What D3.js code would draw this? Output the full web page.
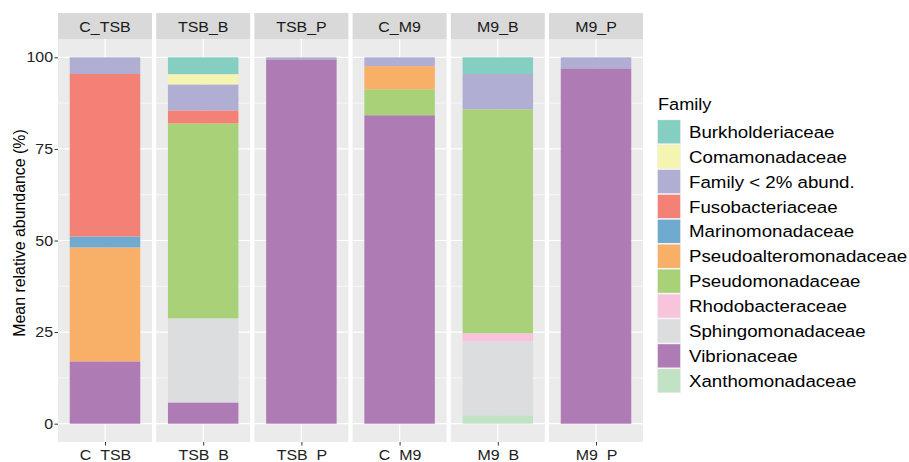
<!DOCTYPE html>
<html>
<head>
<meta charset="utf-8">
<script src="https://cdn.jsdelivr.net/npm/d3@7"></script>
<style>
  body { margin: 0; background: #fff; }
  text { font-family: "Liberation Sans", Arial, Helvetica, sans-serif; }
</style>
</head>
<body>
<svg width="909" height="462"></svg>
<script>
// samples (facets)
var groups = ["C_TSB", "TSB_B", "TSB_P", "C_M9", "M9_B", "M9_P"];
var families = ["Burkholderiaceae", "Comamonadaceae", "Family < 2% abund.", "Fusobacteriaceae",
  "Marinomonadaceae", "Pseudoalteromonadaceae", "Pseudomonadaceae", "Rhodobacteraceae",
  "Sphingomonadaceae", "Vibrionaceae", "Xanthomonadaceae"];
var colors = ["#84CFC2", "#F6F4B1", "#B0AED2", "#F38176", "#70AACE", "#F8AF67",
  "#A9D278", "#F7C4DC", "#DCDDDF", "#AF7BB4", "#C2E3C3"];

// mean relative abundance (%) per family, one value per sample
var burkholderiaceae       = [0,     4.6,   0,     0,    4.55, 0];
var comamonadaceae         = [0,     2.8,   0,     0,    0,    0];
var familyLow              = [4.55,  7.1,   0.55,  2.4,  9.65, 3.0];
var fusobacteriaceae       = [44.35, 3.55,  0,     0,    0,    0];
var marinomonadaceae       = [3.0,   0,     0,     0,    0,    0];
var pseudoalteromonadaceae = [31.1,  0,     0,     6.3,  0,    0];
var pseudomonadaceae       = [0,     53.2,  0,     7.1,  61.1, 0];
var rhodobacteraceae       = [0,     0,     0,     0,    2.2,  0];
var sphingomonadaceae      = [0,     22.95, 0,     0,    20.2, 0];
var vibrionaceae           = [17.0,  5.8,   99.45, 84.2, 0,    97.0];
var xanthomonadaceae       = [0,     0,     0,     0,    2.3,  0];

var yTicks = [0, 25, 50, 75, 100];

var series = [burkholderiaceae, comamonadaceae, familyLow, fusobacteriaceae, marinomonadaceae,
  pseudoalteromonadaceae, pseudomonadaceae, rhodobacteraceae, sphingomonadaceae,
  vibrionaceae, xanthomonadaceae];

var rows = groups.map(function(g, i) {
  var r = { group: g };
  families.forEach(function(f, j) { r[f] = series[j][i]; });
  return r;
});

var sx = 1.1; // text in the picture is a little wide
var svg = d3.select("svg");

var panelTop = 39, panelBottom = 442, stripTop = 13;
var fx = d3.scaleBand().domain(groups).range([58, 643]).paddingInner(0.043);
var bw = fx.bandwidth();
var y = d3.scaleLinear().domain([-5, 105]).range([panelBottom, panelTop]);
var xin = d3.scaleLinear().domain([0.4, 1.6]).range([0, bw]);
var color = d3.scaleOrdinal().domain(families).range(colors);

// first family sits on top, as in ggplot
var stacked = d3.stack().keys(families.slice().reverse())(rows);

var panels = svg.selectAll("g.panel")
  .data(groups)
  .enter()
  .append("g")
  .attr("class", "panel")
  .attr("transform", function(g) { return "translate(" + fx(g) + ",0)"; });

panels.append("rect")
  .attr("y", panelTop).attr("width", bw).attr("height", panelBottom - panelTop)
  .attr("fill", "#EBEBEB");

// minor grid
var minor = [12.5, 37.5, 62.5, 87.5];
panels.selectAll("line.minor")
  .data(minor).enter().append("line")
  .attr("x1", 0).attr("x2", bw)
  .attr("y1", function(d) { return y(d); }).attr("y2", function(d) { return y(d); })
  .attr("stroke", "#fff").attr("stroke-width", 0.6);

panels.selectAll("line.major")
  .data(yTicks).enter().append("line")
  .attr("x1", 0).attr("x2", bw)
  .attr("y1", function(d) { return y(d); }).attr("y2", function(d) { return y(d); })
  .attr("stroke", "#fff").attr("stroke-width", 1.2);

panels.append("line")
  .attr("x1", xin(1)).attr("x2", xin(1))
  .attr("y1", panelTop).attr("y2", panelBottom)
  .attr("stroke", "#fff").attr("stroke-width", 1.2);

// strips
panels.append("rect")
  .attr("y", stripTop).attr("width", bw).attr("height", panelTop - stripTop)
  .attr("fill", "#D9D9D9");
panels.append("text")
  .attr("text-anchor", "middle")
  .attr("transform", "translate(" + (bw / 2) + ",31.5) scale(" + sx + ",1)")
  .attr("font-size", 14.5)
  .attr("fill", "#1A1A1A")
  .text(function(g) { return g; });

// bars
panels.each(function(g, gi) {
  var p = d3.select(this);
  stacked.forEach(function(layer) {
    var d = layer[gi];
    if (d[1] - d[0] <= 0) return;
    p.append("rect")
      .attr("x", xin(0.55))
      .attr("width", xin(1.45) - xin(0.55))
      .attr("y", y(d[1]))
      .attr("height", y(d[0]) - y(d[1]))
      .attr("fill", color(layer.key));
  });
});

// x axis per panel
panels.each(function(g) {
  var ax = d3.axisBottom(d3.scalePoint().domain([g]).range([0, bw]).padding(0.5))
    .tickSize(3.5).tickSizeOuter(0);
  var a = d3.select(this).append("g")
    .attr("transform", "translate(0," + panelBottom + ")")
    .call(ax);
  a.select(".domain").remove();
  a.selectAll(".tick line").attr("stroke", "#333").attr("stroke-width", 1);
  a.selectAll(".tick text")
    .attr("y", null).attr("dy", null)
    .attr("transform", "translate(0,17.7) scale(" + sx + ",1)")
    .attr("font-size", 14.5)
    .attr("fill", "#222");
});

// y axis
var yAxis = svg.append("g")
  .attr("transform", "translate(58,0)")
  .call(d3.axisLeft(y).tickValues(yTicks).tickSize(3.5));
yAxis.select(".domain").remove();
yAxis.selectAll(".tick line").attr("stroke", "#333");
yAxis.selectAll(".tick text")
  .attr("x", -5 / sx)
  .attr("transform", "scale(" + sx + ",1)")
  .attr("font-size", 14.5)
  .attr("font-family", "Liberation Sans, Arial, sans-serif")
  .attr("fill", "#222");

svg.append("text")
  .attr("transform", "translate(25,233) scale(1.03,1) rotate(-90)")
  .attr("text-anchor", "middle")
  .attr("font-size", 15.9)
  .attr("fill", "#000")
  .text("Mean relative abundance (%)");

// legend
var legend = svg.append("g").attr("transform", "translate(657,0)");
legend.append("text")
  .attr("transform", "translate(1,110) scale(" + sx + ",1)")
  .attr("font-size", 16.5)
  .attr("fill", "#000")
  .text("Family");

var keyH = 24.9, keyTop = 119.3;
var items = legend.selectAll("g.key")
  .data(families)
  .enter()
  .append("g")
  .attr("class", "key")
  .attr("transform", function(d, i) { return "translate(0," + (keyTop + i * keyH) + ")"; });

items.append("rect")
  .attr("width", 24).attr("height", keyH)
  .attr("fill", "#F2F2F2");
items.append("rect")
  .attr("x", 0.8).attr("y", 0.8)
  .attr("width", 22.4).attr("height", keyH - 1.6)
  .attr("fill", function(d) { return color(d); });
items.append("text")
  .attr("transform", "translate(32," + (keyH / 2 + 6.1) + ") scale(" + sx + ",1)")
  .attr("font-size", 17)
  .attr("fill", "#000")
  .text(function(d) { return d; });
</script>
</body>
</html>
